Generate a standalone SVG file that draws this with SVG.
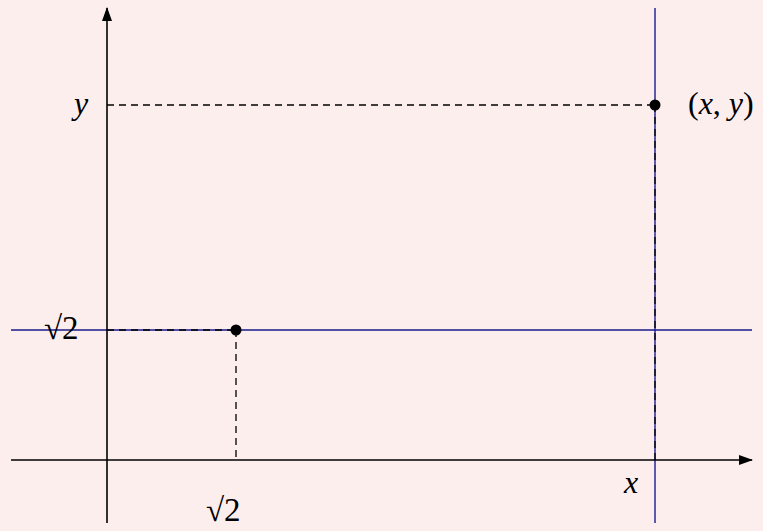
<svg xmlns="http://www.w3.org/2000/svg" width="763" height="531" viewBox="0 0 763 531">
<style>
.ax{stroke:#000;stroke-width:1.6;fill:none}
.bl{stroke:#1a1a8a;stroke-width:1.4;fill:none}
.ds{stroke:#000;stroke-width:1.3;stroke-dasharray:7 5;fill:none}
.t{font-family:"Liberation Serif","DejaVu Serif",serif;font-size:32px;fill:#000}
.i{font-style:italic}
.r{font-size:33px}
</style>
<defs>
<marker id="ar" viewBox="0 0 14 10" refX="13" refY="5" markerWidth="14" markerHeight="10" markerUnits="userSpaceOnUse" orient="auto">
<path d="M0,0 L14,5 L0,10 Z" fill="#000"/>
</marker>
</defs>
<rect width="763" height="531" fill="#fdeeee"/>
<g id="connectors">
<line class="bl" x1="655" y1="8" x2="655" y2="523"/>
<line class="bl" x1="11" y1="330" x2="752" y2="330"/>
<line class="ax" x1="11" y1="460" x2="752" y2="460" marker-end="url(#ar)"/>
<line class="ax" x1="107" y1="523" x2="107" y2="8" marker-end="url(#ar)"/>
<line class="ds" x1="107" y1="105" x2="655" y2="105"/>
<line class="ds" x1="655" y1="105" x2="655" y2="460"/>
<line class="ds" x1="107" y1="330" x2="236" y2="330"/>
<line class="ds" x1="236" y1="330" x2="236" y2="460"/>
</g>
<g id="point-xy">
<circle cx="655" cy="105" r="5.5" fill="#000"/>
<text class="t" x="688" y="114">(<tspan class="i">x</tspan>, <tspan class="i">y</tspan>)</text>
</g>
<g id="point-sqrt2">
<circle cx="236" cy="330" r="5.5" fill="#000"/>
</g>
<g id="labels">
<text class="t i" x="74" y="114">y</text>
<text class="t i" x="624" y="493">x</text>
<text class="t r" x="44" y="339">√2</text>
<text class="t r" x="206" y="521">√2</text>
</g>
</svg>
